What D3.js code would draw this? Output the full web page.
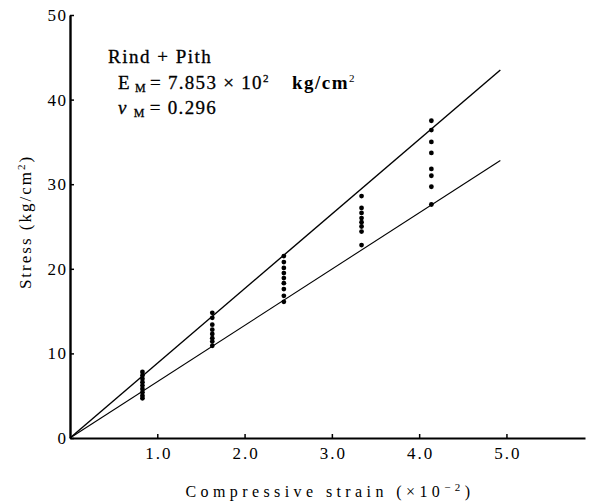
<!DOCTYPE html>
<html><head><meta charset="utf-8">
<script src="https://cdn.jsdelivr.net/npm/d3@7"></script>
<style>
body{margin:0;background:#fff;}
</style></head>
<body><svg id="c" width="589" height="504"></svg>
<script>
const strainLevels = [0.83, 1.63, 2.45, 3.34, 4.14];
const stressValues = [
  [7.8, 7.4, 7.0, 6.6, 6.2, 5.8, 5.4, 5.0, 4.7],
  [14.8, 14.2, 13.4, 12.8, 12.3, 11.8, 11.4, 10.9],
  [21.5, 20.8, 20.1, 19.5, 18.9, 18.3, 17.6, 16.8, 16.1],
  [28.6, 27.2, 26.6, 26.0, 25.5, 25.0, 24.4, 22.8],
  [37.5, 36.4, 35.0, 33.7, 31.8, 31.0, 29.7, 27.6]
];
const upperLine = [[0, 0], [4.93, 43.5]];
const lowerLine = [[0, 0], [4.93, 32.8]];
const xTicks = [1, 2, 3, 4, 5];
const xTickLabels = ["1.0", "2.0", "3.0", "4.0", "5.0"];
const yTicks = [0, 10, 20, 30, 40, 50];

const SERIF = '"Liberation Serif", "Times New Roman", serif';
const svg = d3.select("#c");
const x = d3.scaleLinear().domain([0, 5.9]).range([70, 585]);
const y = d3.scaleLinear().domain([0, 50]).range([438, 15]);

// axes
const xAxis = d3.axisBottom(x).tickValues(xTicks).tickFormat((d,i)=>xTickLabels[i]).tickSizeInner(-4).tickSizeOuter(0).tickPadding(9);
const gx = svg.append("g").attr("transform", `translate(0,${y(0)})`).call(xAxis);
gx.select(".domain").attr("stroke-width", 2.2);
gx.selectAll(".tick line").attr("stroke-width", 1.5);
gx.selectAll(".tick text").attr("font-size", 17).attr("letter-spacing", 2).attr("dx", 1);

const yAxis = d3.axisLeft(y).tickValues(yTicks).tickSizeInner(-4).tickSizeOuter(0).tickPadding(4);
const gy = svg.append("g").attr("transform", `translate(${x(0)},0)`).call(yAxis);
gy.select(".domain").attr("stroke-width", 2.4);
gy.selectAll(".tick line").attr("stroke-width", 1.5);
gy.selectAll(".tick text").attr("font-size", 17).attr("letter-spacing", 1.5).attr("dx", 1.5);

// fit lines
const line = d3.line().x(d => x(d[0])).y(d => y(d[1]));
svg.append("path").datum(upperLine).attr("d", line).attr("fill", "none").attr("stroke", "#000").attr("stroke-width", 1.4);
svg.append("path").datum(lowerLine).attr("d", line).attr("fill", "none").attr("stroke", "#000").attr("stroke-width", 1.1);

// points
const pts = [];
strainLevels.forEach((s, i) => stressValues[i].forEach(v => pts.push([s, v])));
svg.append("g").selectAll("circle").data(pts).join("circle")
  .attr("cx", d => x(d[0])).attr("cy", d => y(d[1])).attr("r", 2.4).attr("fill", "#000");

// annotation
const ann = svg.append("g").attr("font-size", 19).attr("stroke", "#000").attr("stroke-width", 0.3);
ann.append("text").attr("x", 108).attr("y", 63).attr("letter-spacing", 1.5).text("Rind + Pith");
const t2 = ann.append("text").attr("x", 118).attr("y", 89).attr("letter-spacing", 1.3);
t2.append("tspan").text("E");
t2.append("tspan").attr("font-size", 12).attr("dy", 3).attr("dx", 4).text("M");
t2.append("tspan").attr("dy", -3).attr("dx", 3).text("= 7.853 × 10");
t2.append("tspan").attr("font-size", 11).attr("dy", -7).text("2");
ann.append("text").attr("x", 292).attr("y", 89).attr("font-weight", "bold").attr("stroke-width", 0).attr("letter-spacing", 1.5).text("kg/cm")
  .append("tspan").attr("font-size", 11).attr("dy", -7).attr("font-weight", "normal").text("2");
const t3 = ann.append("text").attr("x", 118).attr("y", 114).attr("letter-spacing", 1.3);
t3.append("tspan").attr("font-style", "italic").text("ν");
t3.append("tspan").attr("font-size", 12).attr("dy", 3).attr("dx", 6).text("M");
t3.append("tspan").attr("dy", -3).attr("dx", 4).text("= 0.296");

// axis titles
const yl = svg.append("text").attr("transform", "translate(31,222) rotate(-90)").attr("text-anchor", "middle")
  .attr("font-size", 17).attr("letter-spacing", 2);
yl.append("tspan").text("Stress (kg/cm");
yl.append("tspan").attr("font-size", 11).attr("dy", -6).text("2");
yl.append("tspan").attr("dy", 6).text(")");

const xl = svg.append("text").attr("x", 330).attr("y", 497).attr("text-anchor", "middle")
  .attr("font-size", 16).attr("letter-spacing", 4.4);
xl.append("tspan").text("Compressive strain (×10");
xl.append("tspan").attr("font-size", 11).attr("dy", -6).text("−2");
xl.append("tspan").attr("dy", 6).text(")");

svg.selectAll("text").style("font-family", SERIF).style("fill", "#000");
</script></body></html>
